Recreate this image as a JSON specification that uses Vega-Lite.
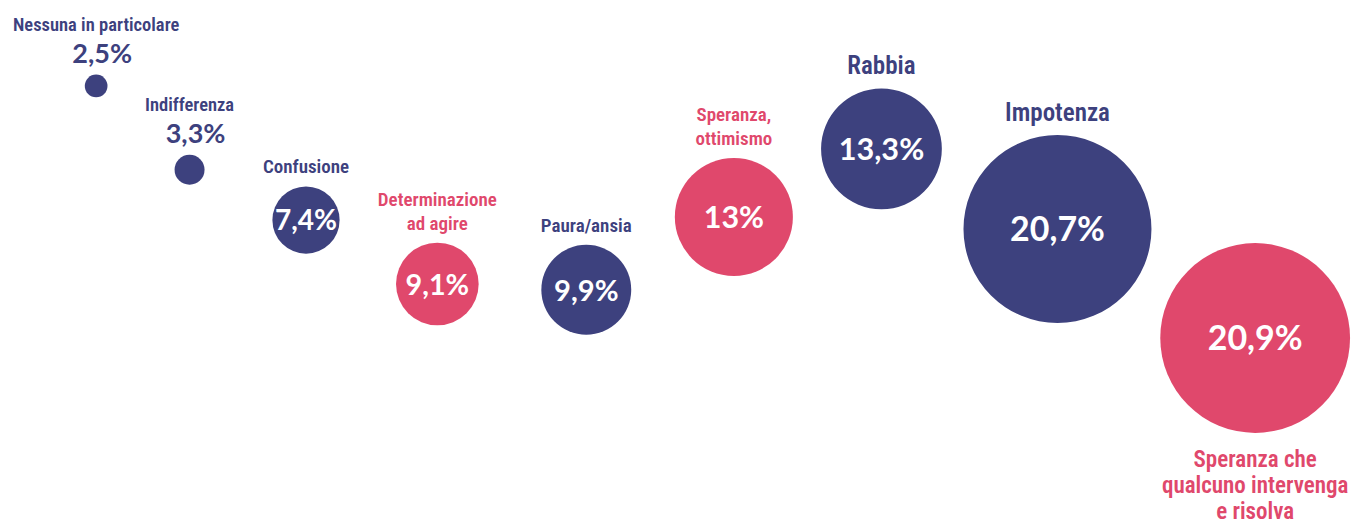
{
  "$schema": "https://vega.github.io/schema/vega-lite/v6.json",
  "width": 1354,
  "height": 524,
  "autosize": {"type": "none"},
  "padding": 0,
  "background": "white",
  "view": {"stroke": null},
  "data": {
    "values": [
      {"emozione": "Nessuna in particolare", "valore": 2.5, "testo": "2,5%", "tipo": "negativa", "x": 7.1, "y": 83.6, "nome": "sopra", "percentuale": "fuori"},
      {"emozione": "Indifferenza", "valore": 3.3, "testo": "3,3%", "tipo": "negativa", "x": 14.0, "y": 67.6, "nome": "sopra", "percentuale": "fuori"},
      {"emozione": "Confusione", "valore": 7.4, "testo": "7,4%", "tipo": "negativa", "x": 22.6, "y": 58.0, "nome": "sopra", "percentuale": "dentro"},
      {"emozione": "Determinazione\nad agire", "valore": 9.1, "testo": "9,1%", "tipo": "positiva", "x": 32.3, "y": 45.8, "nome": "sopra", "percentuale": "dentro"},
      {"emozione": "Paura/ansia", "valore": 9.9, "testo": "9,9%", "tipo": "negativa", "x": 43.3, "y": 44.7, "nome": "sopra", "percentuale": "dentro"},
      {"emozione": "Speranza,\nottimismo", "valore": 13.0, "testo": "13%", "tipo": "positiva", "x": 54.2, "y": 58.6, "nome": "sopra", "percentuale": "dentro"},
      {"emozione": "Rabbia", "valore": 13.3, "testo": "13,3%", "tipo": "negativa", "x": 65.1, "y": 71.6, "nome": "sopra", "percentuale": "dentro"},
      {"emozione": "Impotenza", "valore": 20.7, "testo": "20,7%", "tipo": "negativa", "x": 78.1, "y": 56.3, "nome": "sopra", "percentuale": "dentro"},
      {"emozione": "Speranza che\nqualcuno intervenga\ne risolva", "valore": 20.9, "testo": "20,9%", "tipo": "positiva", "x": 92.7, "y": 35.5, "nome": "sotto", "percentuale": "dentro"}
    ]
  },
  "encoding": {
    "x": {"field": "x", "type": "quantitative", "scale": {"domain": [0, 100], "nice": false, "zero": false}, "axis": null},
    "y": {"field": "y", "type": "quantitative", "scale": {"domain": [0, 100], "nice": false, "zero": false}, "axis": null}
  },
  "layer": [
    {
      "mark": {"type": "circle", "opacity": 1, "strokeWidth": 0},
      "encoding": {
        "size": {"field": "valore", "type": "quantitative", "scale": {"type": "pow", "exponent": 2, "domain": [0, 20.9], "range": [0, 36020]}, "legend": null},
        "color": {"field": "tipo", "type": "nominal", "scale": {"domain": ["negativa", "positiva"], "range": ["#3d417e", "#e0486c"]}, "legend": null}
      }
    },
    {
      "transform": [{"filter": "datum.percentuale == 'dentro'"}],
      "mark": {"type": "text", "font": "Lato", "fontWeight": "bold", "color": "white", "baseline": "middle", "align": "center", "dy": 2},
      "encoding": {
        "text": {"field": "testo", "type": "nominal"},
        "size": {"field": "valore", "type": "quantitative", "scale": {"type": "linear", "domain": [7.4, 20.9], "range": [28, 34], "zero": false}, "legend": null}
      }
    },
    {
      "transform": [{"filter": "datum.percentuale == 'fuori'"}],
      "mark": {"type": "text", "font": "Lato", "fontWeight": "bold", "fontSize": 27, "baseline": "alphabetic", "align": "center", "dx": 6, "dy": {"expr": "-(datum.valore * 4.54 + 12)"}},
      "encoding": {
        "text": {"field": "testo", "type": "nominal"},
        "color": {"field": "tipo", "type": "nominal", "legend": null}
      }
    },
    {
      "transform": [{"filter": "datum.nome == 'sopra' && datum.percentuale == 'dentro'"}],
      "mark": {"type": "text", "font": "Noto Sans Condensed, Roboto Condensed, DejaVu Sans Condensed, sans-serif", "fontWeight": 600, "baseline": "bottom", "align": "center", "lineBreak": "\n", "lineHeight": 24, "dy": {"expr": "-(datum.valore * 4.54 + 9) - (length(split(datum.emozione, '\\n')) - 1) * 24"}},
      "encoding": {
        "text": {"field": "emozione", "type": "nominal"},
        "color": {"field": "tipo", "type": "nominal", "legend": null},
        "size": {"field": "valore", "type": "quantitative", "scale": {"type": "threshold", "domain": [13.2], "range": [19, 25]}, "legend": null}
      }
    },
    {
      "transform": [{"filter": "datum.percentuale == 'fuori'"}],
      "mark": {"type": "text", "font": "Noto Sans Condensed, Roboto Condensed, DejaVu Sans Condensed, sans-serif", "fontWeight": 600, "fontSize": 18.5, "baseline": "bottom", "align": "center", "dy": {"expr": "-(datum.valore * 4.54 + 40)"}},
      "encoding": {
        "text": {"field": "emozione", "type": "nominal"},
        "color": {"field": "tipo", "type": "nominal", "legend": null}
      }
    },
    {
      "transform": [{"filter": "datum.nome == 'sotto'"}],
      "mark": {"type": "text", "font": "Noto Sans Condensed, Roboto Condensed, DejaVu Sans Condensed, sans-serif", "fontWeight": 600, "fontSize": 23, "baseline": "top", "align": "center", "lineBreak": "\n", "lineHeight": 26, "dy": {"expr": "datum.valore * 4.54 + 16"}},
      "encoding": {
        "text": {"field": "emozione", "type": "nominal"},
        "color": {"field": "tipo", "type": "nominal", "legend": null}
      }
    }
  ],
  "resolve": {"scale": {"size": "independent"}}
}
